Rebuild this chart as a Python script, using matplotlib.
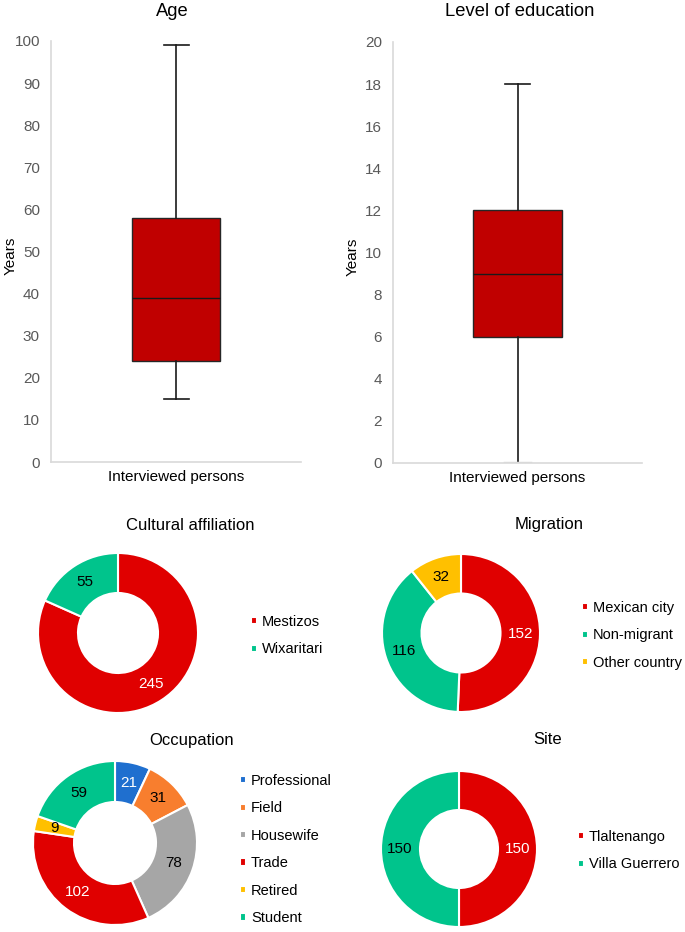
import numpy as np
import matplotlib.pyplot as plt

plt.rcParams['font.family'] = ['Liberation Sans', 'DejaVu Sans']

# Box plot summaries (years)
age_stats = dict(med=39, q1=24, q3=58, whislo=15, whishi=99)
edu_stats = dict(med=9, q1=6, q3=12, whislo=0, whishi=18)
age_ticks = [0, 10, 20, 30, 40, 50, 60, 70, 80, 90, 100]
edu_ticks = [0, 2, 4, 6, 8, 10, 12, 14, 16, 18, 20]

# Donut data
culture_labels = ['Mestizos', 'Wixaritari']
culture_values = [245, 55]
migration_labels = ['Mexican city', 'Non-migrant', 'Other country']
migration_values = [152, 116, 32]
occupation_labels = ['Professional', 'Field', 'Housewife', 'Trade', 'Retired', 'Student']
occupation_values = [21, 31, 78, 102, 9, 59]
site_labels = ['Tlaltenango', 'Villa Guerrero']
site_values = [150, 150]

RED = '#E00000'
GREEN = '#00C48C'
YELLOW = '#FFC000'
BLUE = '#1F6FCF'
ORANGE = '#F87E2E'
GRAY = '#A6A6A6'

W, H = 685, 932
fig = plt.figure(figsize=(W / 100, H / 100), dpi=100)


def px_axes(left, top, right, bottom):
    return fig.add_axes([left / W, 1 - bottom / H, (right - left) / W, (bottom - top) / H])


def boxplot(ax, stats, ticks, title, title_x, low_cap_gray=False):
    b = ax.bxp([dict(stats, fliers=[])], positions=[0.5], widths=0.355,
               patch_artist=True, showfliers=False, capwidths=0.1,
               boxprops=dict(facecolor='#C00000', edgecolor='#262626', linewidth=1),
               medianprops=dict(color='#1a1a1a', linewidth=1),
               whiskerprops=dict(color='#1a1a1a', linewidth=1.2),
               capprops=dict(color='#1a1a1a', linewidth=1.2))
    if low_cap_gray:
        b['caps'][0].set_color('#D9D9D9')
        b['caps'][0].set_linewidth(2.5)
    ax.set_xlim(0, 1)
    ax.set_ylim(ticks[0], ticks[-1])
    ax.set_yticks(ticks)
    ax.set_xticks([0.5])
    ax.set_xticklabels(['Interviewed persons'], fontsize=11)
    ax.tick_params(axis='y', length=0, labelsize=11, labelcolor='#595959', pad=8)
    ax.tick_params(axis='x', length=0, pad=6)
    for s in ['top', 'right']:
        ax.spines[s].set_visible(False)
    for s in ['left', 'bottom']:
        ax.spines[s].set_color('#D9D9D9')
        ax.spines[s].set_linewidth(1.2)
    ax.set_ylabel('Years', fontsize=11)
    ax.yaxis.set_label_coords(-0.135, 0.49)
    fig.text(title_x / W, 1 - 12 / H, title, ha='center', va='center', fontsize=13.2)


ax1 = px_axes(51, 41, 301, 462)
boxplot(ax1, age_stats, age_ticks, 'Age', 172)

ax2 = px_axes(393, 42, 642, 463)
boxplot(ax2, edu_stats, edu_ticks, 'Level of education', 520, low_cap_gray=True)


def donut(cx, cy, r, values, labels, colors, text_colors, title, title_xy,
          leg_x, leg_y, label_size=11):
    ax = px_axes(cx - r, cy - r, cx + r, cy + r)
    wedges, _ = ax.pie(values, colors=colors, startangle=90, counterclock=False,
                       radius=1, wedgeprops=dict(width=0.5, edgecolor='white', linewidth=1.5))
    for w, v, tc in zip(wedges, values, text_colors):
        ang = np.deg2rad((w.theta1 + w.theta2) / 2)
        ax.text(0.755 * np.cos(ang), 0.755 * np.sin(ang), str(v), ha='center', va='center',
                fontsize=label_size, color=tc)
    ax.set_xlim(-1, 1)
    ax.set_ylim(-1, 1)
    ax.axis('off')
    fig.text(title_xy[0] / W, 1 - title_xy[1] / H, title, ha='center', va='center', fontsize=12)
    fig.legend(wedges, labels, loc='upper left',
               bbox_to_anchor=(leg_x / W, 1 - leg_y / H), frameon=False,
               fontsize=10.5, handlelength=0.4, handleheight=0.4, handletextpad=0.35,
               labelspacing=0.92, borderpad=0, borderaxespad=0)


donut(118, 633, 80, culture_values, culture_labels, [RED, GREEN], ['white', 'black'],
      'Cultural affiliation', (190, 525), 251, 615)
donut(461, 633, 79, migration_values, migration_labels, [RED, GREEN, YELLOW],
      ['white', 'black', 'black'], 'Migration', (549, 525), 582, 601)
donut(115, 843, 82, occupation_values, occupation_labels,
      [BLUE, ORANGE, GRAY, RED, YELLOW, GREEN],
      ['white', 'black', 'black', 'white', 'black', 'black'],
      'Occupation', (192, 740), 240, 774)
donut(459, 849, 78, site_values, site_labels, [RED, GREEN], ['white', 'black'],
      'Site', (548, 740), 578, 830)

fig.savefig('out.png', dpi=100)
